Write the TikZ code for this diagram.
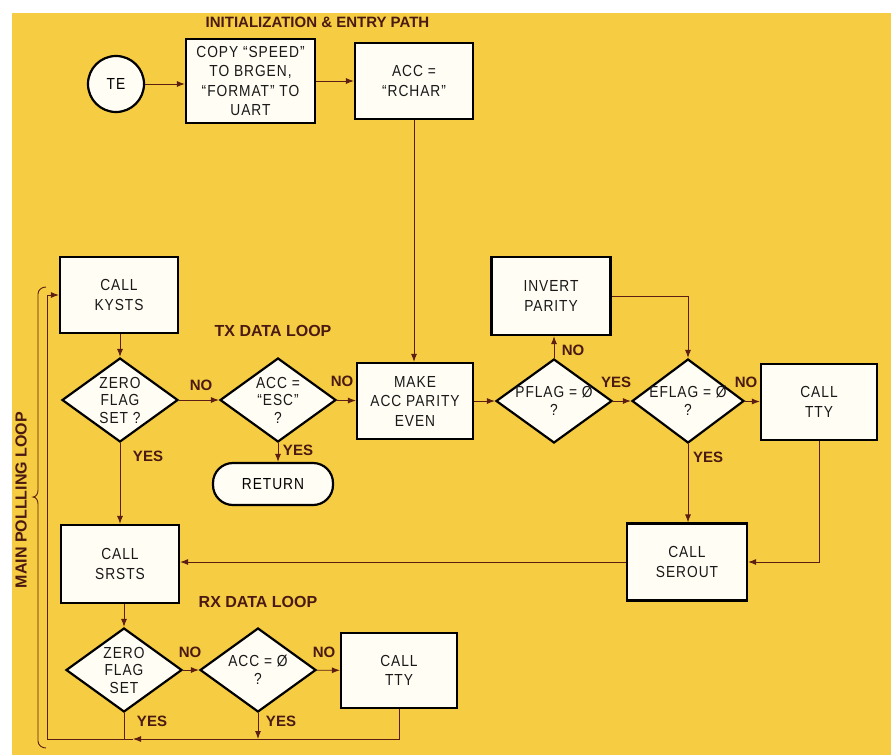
\documentclass[tikz,border=0pt]{standalone}
\usepackage{fontspec}
\setmainfont{Liberation Sans}
\newfontfamily\nodefont[FakeStretch=0.86,LetterSpace=6]{Liberation Sans}
\usetikzlibrary{shapes.geometric,arrows.meta}
\definecolor{bgyellow}{RGB}{245,204,66}
\definecolor{boxfill}{RGB}{255,253,244}
\definecolor{linecol}{RGB}{92,30,18}
\definecolor{lblcol}{RGB}{74,26,18}
\tikzset{
  box/.style={draw=black, line width=2.2pt, fill=boxfill, align=center, inner sep=0pt,
    font=\nodefont\fontsize{16}{19.5}\selectfont, text=black!90},
  circnode/.style={circle, draw=black, line width=2.2pt, fill=boxfill, minimum size=56pt, inner sep=0pt,
    font=\nodefont\fontsize{16}{19}\selectfont},
  dia/.style={diamond, draw=black, line width=2.2pt, fill=boxfill, minimum width=116pt, minimum height=84pt, inner sep=0pt},
  dtext/.style={align=center, inner sep=0pt, font=\nodefont\fontsize{16}{17.5}\selectfont, text=black!90},
  term/.style={draw=black, line width=2.2pt, fill=boxfill, rounded corners=20pt, minimum width=120pt,
    minimum height=42pt, font=\nodefont\fontsize{16}{19}\selectfont},
  conn/.style={draw=linecol, line width=0.9pt},
  arr/.style={conn, -{Latex[length=8pt,width=6pt]}},
  yn/.style={text=lblcol, font=\fontsize{15}{15}\bfseries, inner sep=0pt},
  ttl/.style={text=lblcol, font=\fontsize{16}{16}\bfseries, inner sep=0pt}
}
\begin{document}
\begin{tikzpicture}[x=1pt,y=-1pt]
\useasboundingbox (0,0) rectangle (891,755);
\fill[white] (0,0) rectangle (891,755);
\fill[bgyellow] (12,13) rectangle (891,755);

% titles
\node[ttl, font=\fontsize{15}{15}\bfseries] (title) at (317.5,22) {INITIALIZATION \& ENTRY PATH};
\node[ttl] (txl) at (273,331) {TX DATA LOOP};
\node[ttl] (rxl) at (258,602) {RX DATA LOOP};
\node[ttl, rotate=90] (mpl) at (21,500) {MAIN POLLLING LOOP};

% nodes
\node[circnode] (te) at (116,84) {TE};
\node[box, minimum width=129pt, minimum height=84pt] (copy) at (250.5,81) {COPY “SPEED”\\TO BRGEN,\\“FORMAT” TO\\UART};
\node[box, minimum width=118pt, minimum height=76pt] (rchar) at (414,81) {ACC =\\“RCHAR”};
\node[box, minimum width=118pt, minimum height=76pt] (kysts) at (119,295) {CALL\\KYSTS};
\node[dia] (z1) at (120,400) {};
\node[dtext] (z1t) at (z1) {ZERO\\FLAG\\SET ?};
\node[dia] (esc) at (278,400) {};
\node[dtext] (esct) at (esc) {ACC =\\“ESC”\\?};
\node[term] (ret) at (273,484) {RETURN};
\node[box, minimum width=116pt, minimum height=76pt] (make) at (415,401) {MAKE\\ACC PARITY\\EVEN};
\node[dia] (pflag) at (554,401) {};
\node[dtext] (pflagt) at (pflag) {PFLAG = Ø\\?};
\node[box, minimum width=119pt, minimum height=78pt] (inv) at (551,296) {INVERT\\PARITY};
\node[dia, minimum width=112pt] (eflag) at (688,401) {};
\node[dtext] (eflagt) at (eflag) {EFLAG = Ø\\?};
\node[box, minimum width=116pt, minimum height=76pt] (tty1) at (819,402) {CALL\\TTY};
\node[box, minimum width=120pt, minimum height=77pt] (serout) at (687,562) {CALL\\SEROUT};
\node[box, minimum width=118pt, minimum height=78pt] (srsts) at (120,564) {CALL\\SRSTS};
\node[dia] (z2) at (124,670) {};
\node[dtext] (z2t) at (z2) {ZERO\\FLAG\\SET};
\node[dia] (acc0) at (258,670) {};
\node[dtext] (acc0t) at (acc0) {ACC = Ø\\?};
\node[box, minimum width=116pt, minimum height=75pt] (tty2) at (399,670.5) {CALL\\TTY};

% connectors
\draw[arr] (te.east) -- (te.east -| copy.west);
\draw[arr] (copy) -- (rchar);
\draw[arr] (rchar.south) -- (rchar.south |- make.north);
\draw[arr] (kysts.south -| z1.north) -- (z1.north);
\draw[arr] (z1) -- (esc);
\draw[arr] (esc) -- (make);
\draw[arr] (esc.south) -- (esc.south |- ret.north);
\draw[arr] (z1.south) -- (z1.south |- srsts.north);
\draw[arr] (make) -- (pflag);
\draw[arr] (pflag.north) -- (pflag.north |- inv.south);
\draw[arr] (pflag) -- (eflag);
\draw[arr] (inv.east) -| (eflag.north);
\draw[arr] (eflag) -- (tty1);
\draw[arr] (eflag.south) -- (eflag.south |- serout.north);
\draw[arr] (tty1.south) |- (serout.east);
\draw[arr] (serout.west) -- (serout.west -| srsts.east);
\draw[arr] (srsts.south -| z2.north) -- (z2.north);
\draw[arr] (z2) -- (acc0);
\draw[arr] (acc0) -- (tty2);

% main polling loop return path
\coordinate (bl) at (47,739);
\coordinate (bmid) at (133,739);
\coordinate (tl) at (47,295);
\draw[arr] (tty2.south) |- (bmid);
\draw[conn] (bmid) -- (bl) -- (tl);
\draw[arr] (tl) -- (kysts.west);
\draw[conn] (z2.south) -- (z2.south |- bl);
\draw[arr] (acc0.south) -- (acc0.south |- bl);

% brace
\coordinate (br1) at (46,287);
\coordinate (br2) at (38,294);
\coordinate (br3) at (38,490);
\coordinate (br4) at (33,497);
\coordinate (br5) at (38,504);
\coordinate (br6) at (38,741);
\coordinate (br7) at (46,748);
\draw[conn] (br1) to[out=180,in=90] (br2) -- (br3) to[out=-90,in=0] (br4) to[out=0,in=90] (br5) -- (br6) to[out=-90,in=180] (br7);

% yes / no labels
\node[yn] (n1) at (201,385) {NO};
\node[yn] (n2) at (342,381) {NO};
\node[yn] (y1) at (298,450) {YES};
\node[yn] (y2) at (148,456) {YES};
\node[yn] (n3) at (573,350) {NO};
\node[yn] (y3) at (616,382) {YES};
\node[yn] (n4) at (746,382) {NO};
\node[yn] (y4) at (708,457) {YES};
\node[yn] (n5) at (190,652) {NO};
\node[yn] (n6) at (324,652) {NO};
\node[yn] (y5) at (152,721) {YES};
\node[yn] (y6) at (281,721) {YES};
\end{tikzpicture}
\end{document}
